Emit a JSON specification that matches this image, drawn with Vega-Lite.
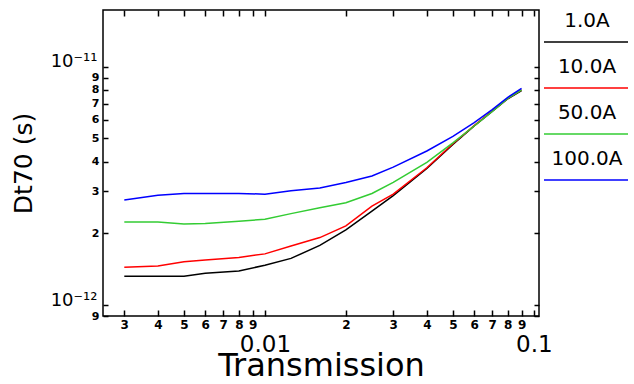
{
  "$schema": "https://vega.github.io/schema/vega-lite/v6.json",
  "width": 436,
  "height": 306,
  "autosize": {"type": "none"},
  "padding": {"left": 103, "top": 10, "right": 95, "bottom": 68},
  "background": "white",
  "config": {"view": {"stroke": "#000", "strokeWidth": 1.5}, "font": "DejaVu Sans"},
  "data": {"values": [
    {"s": "1.0A", "t": 0.003, "dt": 1.32e-12},
    {"s": "1.0A", "t": 0.004, "dt": 1.32e-12},
    {"s": "1.0A", "t": 0.005, "dt": 1.32e-12},
    {"s": "1.0A", "t": 0.006, "dt": 1.36e-12},
    {"s": "1.0A", "t": 0.008, "dt": 1.39e-12},
    {"s": "1.0A", "t": 0.01, "dt": 1.47e-12},
    {"s": "1.0A", "t": 0.0125, "dt": 1.57e-12},
    {"s": "1.0A", "t": 0.016, "dt": 1.78e-12},
    {"s": "1.0A", "t": 0.02, "dt": 2.07e-12},
    {"s": "1.0A", "t": 0.025, "dt": 2.48e-12},
    {"s": "1.0A", "t": 0.03, "dt": 2.88e-12},
    {"s": "1.0A", "t": 0.04, "dt": 3.74e-12},
    {"s": "1.0A", "t": 0.05, "dt": 4.72e-12},
    {"s": "1.0A", "t": 0.06, "dt": 5.64e-12},
    {"s": "1.0A", "t": 0.07, "dt": 6.49e-12},
    {"s": "1.0A", "t": 0.08, "dt": 7.34e-12},
    {"s": "1.0A", "t": 0.09, "dt": 7.94e-12},
    {"s": "10.0A", "t": 0.003, "dt": 1.44e-12},
    {"s": "10.0A", "t": 0.004, "dt": 1.46e-12},
    {"s": "10.0A", "t": 0.005, "dt": 1.52e-12},
    {"s": "10.0A", "t": 0.006, "dt": 1.545e-12},
    {"s": "10.0A", "t": 0.008, "dt": 1.585e-12},
    {"s": "10.0A", "t": 0.01, "dt": 1.64e-12},
    {"s": "10.0A", "t": 0.0125, "dt": 1.77e-12},
    {"s": "10.0A", "t": 0.016, "dt": 1.92e-12},
    {"s": "10.0A", "t": 0.02, "dt": 2.15e-12},
    {"s": "10.0A", "t": 0.025, "dt": 2.6e-12},
    {"s": "10.0A", "t": 0.03, "dt": 2.92e-12},
    {"s": "10.0A", "t": 0.04, "dt": 3.77e-12},
    {"s": "10.0A", "t": 0.05, "dt": 4.75e-12},
    {"s": "10.0A", "t": 0.06, "dt": 5.66e-12},
    {"s": "10.0A", "t": 0.07, "dt": 6.52e-12},
    {"s": "10.0A", "t": 0.08, "dt": 7.36e-12},
    {"s": "10.0A", "t": 0.09, "dt": 8.0e-12},
    {"s": "50.0A", "t": 0.003, "dt": 2.23e-12},
    {"s": "50.0A", "t": 0.004, "dt": 2.23e-12},
    {"s": "50.0A", "t": 0.005, "dt": 2.19e-12},
    {"s": "50.0A", "t": 0.006, "dt": 2.2e-12},
    {"s": "50.0A", "t": 0.008, "dt": 2.25e-12},
    {"s": "50.0A", "t": 0.01, "dt": 2.29e-12},
    {"s": "50.0A", "t": 0.0125, "dt": 2.42e-12},
    {"s": "50.0A", "t": 0.016, "dt": 2.56e-12},
    {"s": "50.0A", "t": 0.02, "dt": 2.69e-12},
    {"s": "50.0A", "t": 0.025, "dt": 2.94e-12},
    {"s": "50.0A", "t": 0.03, "dt": 3.27e-12},
    {"s": "50.0A", "t": 0.04, "dt": 3.97e-12},
    {"s": "50.0A", "t": 0.05, "dt": 4.79e-12},
    {"s": "50.0A", "t": 0.06, "dt": 5.64e-12},
    {"s": "50.0A", "t": 0.07, "dt": 6.49e-12},
    {"s": "50.0A", "t": 0.08, "dt": 7.37e-12},
    {"s": "50.0A", "t": 0.09, "dt": 8.0e-12},
    {"s": "100.0A", "t": 0.003, "dt": 2.76e-12},
    {"s": "100.0A", "t": 0.004, "dt": 2.89e-12},
    {"s": "100.0A", "t": 0.005, "dt": 2.94e-12},
    {"s": "100.0A", "t": 0.006, "dt": 2.94e-12},
    {"s": "100.0A", "t": 0.008, "dt": 2.94e-12},
    {"s": "100.0A", "t": 0.01, "dt": 2.92e-12},
    {"s": "100.0A", "t": 0.0125, "dt": 3.02e-12},
    {"s": "100.0A", "t": 0.016, "dt": 3.1e-12},
    {"s": "100.0A", "t": 0.02, "dt": 3.27e-12},
    {"s": "100.0A", "t": 0.025, "dt": 3.48e-12},
    {"s": "100.0A", "t": 0.03, "dt": 3.79e-12},
    {"s": "100.0A", "t": 0.04, "dt": 4.43e-12},
    {"s": "100.0A", "t": 0.05, "dt": 5.1e-12},
    {"s": "100.0A", "t": 0.06, "dt": 5.83e-12},
    {"s": "100.0A", "t": 0.07, "dt": 6.61e-12},
    {"s": "100.0A", "t": 0.08, "dt": 7.44e-12},
    {"s": "100.0A", "t": 0.09, "dt": 8.12e-12}
  ]},
  "layer": [
    {
      "mark": {"type": "line", "strokeWidth": 1.5, "clip": true},
      "encoding": {
        "x": {
          "field": "t", "type": "quantitative",
          "scale": {"type": "log", "domain": [0.0025, 0.1045], "nice": false},
          "axis": {
            "orient": "bottom",
            "values": [0.003, 0.004, 0.005, 0.006, 0.007, 0.008, 0.009, 0.01, 0.02, 0.03, 0.04, 0.05, 0.06, 0.07, 0.08, 0.09, 0.1],
            "labelExpr": "(datum.value > 0.0099 && datum.value < 0.0101) ? '0.01' : (datum.value > 0.099 ? '0.1' : (datum.value < 0.01 ? format(datum.value * 1000, '.0f') : format(datum.value * 100, '.0f')))",
            "labelFontSize": {"condition": {"test": "(datum.value > 0.0099 && datum.value < 0.0101) || datum.value > 0.099", "value": 23}, "value": 12},
            "labelFontWeight": {"condition": {"test": "(datum.value > 0.0099 && datum.value < 0.0101) || datum.value > 0.099", "value": "normal"}, "value": "bold"},
            "labelPadding": {"condition": {"test": "(datum.value > 0.0099 && datum.value < 0.0101) || datum.value > 0.099", "value": 23}, "value": 9},
            "labelOverlap": false,
            "labelFlush": false,
            "labelColor": "#000",
            "tickSize": -6,
            "tickWidth": 1.5,
            "tickColor": "#000",
            "domain": false,
            "grid": false,
            "title": "Transmission",
            "titleFontSize": 32,
            "titleFontWeight": "normal",
            "titleColor": "#000",
            "titlePadding": -6
          }
        },
        "y": {
          "field": "dt", "type": "quantitative",
          "scale": {"type": "log", "domain": [9e-13, 1.73e-11], "nice": false},
          "axis": {
            "orient": "left",
            "values": [9e-13, 1e-12, 2e-12, 3e-12, 4e-12, 5e-12, 6e-12, 7e-12, 8e-12, 9e-12, 1e-11],
            "labelExpr": "datum.value < 9.5e-13 ? '9' : (datum.value < 1.05e-12 ? '10⁻¹²' : (datum.value < 9.5e-12 ? format(datum.value * 1e12, '.0f') : '10⁻¹¹'))",
            "labelFontSize": {"condition": {"test": "(datum.value > 9.5e-13 && datum.value < 1.05e-12) || datum.value > 9.5e-12", "value": 18}, "value": 11},
            "labelFontWeight": {"condition": {"test": "(datum.value > 9.5e-13 && datum.value < 1.05e-12) || datum.value > 9.5e-12", "value": "normal"}, "value": "bold"},
            "labelBaseline": {"condition": {"test": "(datum.value > 9.5e-13 && datum.value < 1.05e-12) || datum.value > 9.5e-12", "value": "alphabetic"}, "value": "middle"},
            "labelPadding": {"condition": {"test": "(datum.value > 9.5e-13 && datum.value < 1.05e-12) || datum.value > 9.5e-12", "value": 11}, "value": 9},
            "labelOverlap": false,
            "labelFlush": false,
            "labelColor": "#000",
            "tickSize": -5,
            "tickWidth": 1.5,
            "tickColor": "#000",
            "domain": false,
            "grid": false,
            "title": "Dt70  (s)",
            "titleFontSize": 25,
            "titleFontWeight": "normal",
            "titleColor": "#000",
            "titlePadding": 14
          }
        },
        "color": {
          "field": "s", "type": "nominal",
          "scale": {"domain": ["1.0A", "10.0A", "50.0A", "100.0A"], "range": ["#000000", "#ff0000", "#33cc33", "#0000ff"]},
          "legend": {
            "orient": "none",
            "legendX": 440,
            "legendY": -11,
            "padding": 0,
            "rowPadding": -4,
            "title": null,
            "symbolType": "M-1,0H1",
            "symbolSize": 7056,
            "symbolStrokeWidth": 1.5,
            "labelFontSize": 20,
            "labelColor": "#000",
            "labelAlign": "center",
            "labelOffset": -42,
            "labelBaseline": "alphabetic",
            "encode": {"labels": {"update": {"dy": {"value": -15}}}}
          }
        }
      }
    },
    {
      "mark": {"type": "line", "opacity": 0},
      "encoding": {
        "x": {
          "field": "t", "type": "quantitative",
          "axis": {
            "orient": "top",
            "values": [0.003, 0.004, 0.005, 0.006, 0.007, 0.008, 0.009, 0.01, 0.02, 0.03, 0.04, 0.05, 0.06, 0.07, 0.08, 0.09, 0.1],
            "labels": false, "tickSize": -6, "tickWidth": 1.5, "tickColor": "#000",
            "domain": false, "grid": false, "title": null
          }
        },
        "y": {
          "field": "dt", "type": "quantitative",
          "axis": {
            "orient": "right",
            "values": [9e-13, 1e-12, 2e-12, 3e-12, 4e-12, 5e-12, 6e-12, 7e-12, 8e-12, 9e-12, 1e-11],
            "labels": false, "tickSize": -5, "tickWidth": 1.5, "tickColor": "#000",
            "domain": false, "grid": false, "title": null
          }
        },
        "detail": {"field": "s"}
      }
    }
  ],
  "resolve": {"axis": {"x": "independent", "y": "independent"}}
}
